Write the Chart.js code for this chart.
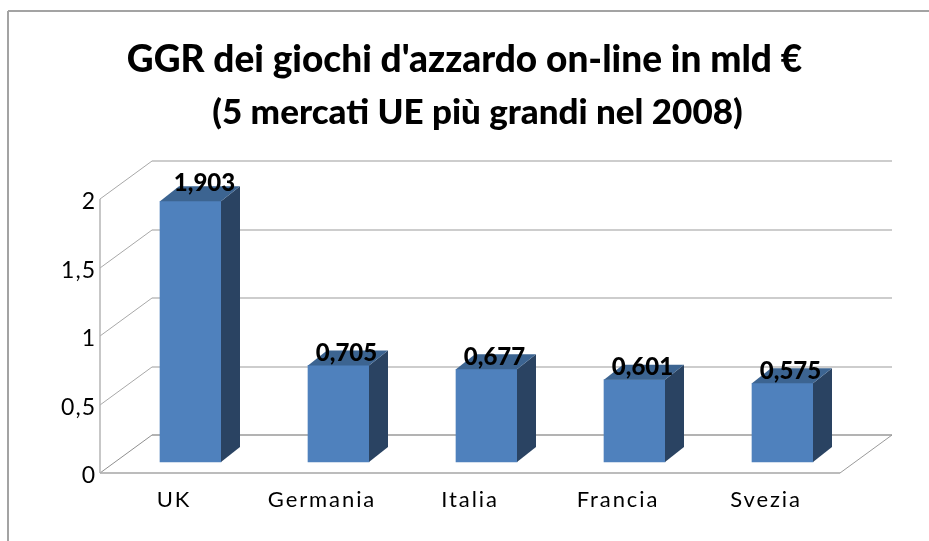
<!DOCTYPE html>
<html>
<head>
<meta charset="utf-8">
<title>GGR giochi on-line</title>
<script src="https://cdn.jsdelivr.net/npm/chart.js@4"></script>
<style>
    body { margin: 0; background: #fff; }
    canvas { display: block; }
</style>
</head>
<body>
<canvas id="ggrChart" width="929" height="541"></canvas>
<script>
const categories = ['UK', 'Germania', 'Italia', 'Francia', 'Svezia'];
const ggrValues = [1.903, 0.705, 0.677, 0.601, 0.575];
const tickValues = [0, 0.5, 1, 1.5, 2];
const tickLabels = ['0', '0,5', '1', '1,5', '2'];
const valueLabels = ['1,903', '0,705', '0,677', '0,601', '0,575'];
const chartTitle = "GGR dei giochi d'azzardo on-line in mld €";
const chartSubtitle = '(5 mercati UE più grandi nel 2008)';

const FONT = 'Lato, "Open Sans", sans-serif';
const wall = { dx: 52, dy: -38 };     // depth of the back wall
const barShift = { dx: 16.5, dy: -11 }; // bars stand inside the floor
const barDepth = { dx: 19, dy: -15 };

function line(ctx, x1, y1, x2, y2, color, width) {
    ctx.beginPath();
    ctx.moveTo(x1, y1);
    ctx.lineTo(x2, y2);
    ctx.strokeStyle = color;
    ctx.lineWidth = width;
    ctx.stroke();
}

function poly(ctx, points, color) {
    ctx.beginPath();
    points.forEach((p, i) => i ? ctx.lineTo(p[0], p[1]) : ctx.moveTo(p[0], p[1]));
    ctx.closePath();
    ctx.fillStyle = color;
    ctx.fill();
}

function spaced(scale, spacing) {
    if (scale._spaced) return;
    scale._spaced = true;
    const orig = scale.drawLabels;
    scale.drawLabels = function (area) {
        const ctx = this.ctx;
        ctx.save();
        ctx.letterSpacing = spacing;
        orig.call(this, area);
        ctx.restore();
    };
}

const box3d = {
    id: 'box3d',
    afterLayout(chart) {
        // second title line is not centred on the first one in the original
        const sub = chart.boxes.find(b => b.options && b.options.text === chartSubtitle);
        sub.left += 13;
        sub.right += 13;
    },
    beforeDraw(chart) {
        const { ctx, width, height } = chart;
        spaced(chart.scales.x, '1.9px');
        spaced(chart.scales.y, '1px');
        ctx.save();
        line(ctx, 8, 11, width, 11, '#a3a3a3', 2);
        line(ctx, 8, 11, 8, height, '#a3a3a3', 2);
        ctx.restore();
    },
    beforeDatasetsDraw(chart) {
        const { ctx, chartArea: a, scales: { y } } = chart;
        ctx.save();
        tickValues.forEach(v => {
            const py = Math.round(y.getPixelForValue(v));
            const dark = v === 0;
            line(ctx, a.left + wall.dx, py + wall.dy, a.right + wall.dx, py + wall.dy, dark ? '#9a9a9a' : '#bdbdbd', 1.5);
            line(ctx, a.left, py, a.left + wall.dx, py + wall.dy, dark ? '#8f8f8f' : '#a8a8a8', 1);
        });
        const floor = Math.round(y.getPixelForValue(0));
        line(ctx, a.left, floor, a.right, floor, '#a6a6a6', 1.5);
        line(ctx, a.right, floor, a.right + wall.dx, floor + wall.dy, '#9a9a9a', 1);
        line(ctx, a.left, Math.round(y.getPixelForValue(2)), a.left, floor, '#b5b5b5', 1.5);
        ctx.restore();
        ctx.save();
        ctx.translate(barShift.dx, barShift.dy);
    },
    afterDatasetsDraw(chart) {
        const { ctx } = chart;
        const bars = chart.getDatasetMeta(0).data;
        bars.forEach(bar => {
            const left = bar.x - bar.width / 2;
            const right = bar.x + bar.width / 2;
            const d = barDepth;
            poly(ctx, [[right, bar.y], [right + d.dx, bar.y + d.dy], [right + d.dx, bar.base + d.dy], [right, bar.base]], '#2a4362');
            poly(ctx, [[left, bar.y], [left + d.dx, bar.y + d.dy], [right + d.dx, bar.y + d.dy], [right, bar.y]], '#3c6491');
        });
        ctx.font = '900 24px ' + FONT;
        ctx.fillStyle = '#000';
        ctx.textAlign = 'center';
        ctx.textBaseline = 'middle';
        bars.forEach((bar, i) => {
            // the tall bar's label sits higher up on its top face
            const lift = i === 0 ? 18 : 12;
            const shift = i === 0 ? 14 : 8;
            ctx.fillText(valueLabels[i], bar.x + shift, bar.y - lift);
        });
        ctx.restore();
    }
};

new Chart(document.getElementById('ggrChart'), {
    type: 'bar',
    data: {
        labels: categories,
        datasets: [{
            data: ggrValues,
            backgroundColor: '#4f81bd',
            borderWidth: 0,
            barThickness: 61,
            clip: false
        }]
    },
    options: {
        responsive: false,
        animation: false,
        plugins: {
            legend: { display: false },
            tooltip: { enabled: false },
            title: {
                display: true,
                text: chartTitle,
                color: '#000',
                font: { family: FONT, size: 37, weight: '900' },
                padding: { top: 38, bottom: 9.6 }
            },
            subtitle: {
                display: true,
                text: chartSubtitle,
                color: '#000',
                font: { family: FONT, size: 35, weight: '900' },
                padding: { top: 0, bottom: 65 }
            }
        },
        scales: {
            x: {
                grid: { display: false },
                border: { display: false },
                afterFit(scale) { scale.height = 68; },
                ticks: { color: '#000', font: { family: FONT, size: 22 }, padding: 6, maxRotation: 0 }
            },
            y: {
                min: 0,
                max: 2,
                grid: { display: false },
                border: { display: false },
                afterFit(scale) { scale.width = 100; },
                afterBuildTicks(scale) { scale.ticks = tickValues.map(value => ({ value })); },
                ticks: {
                    color: '#000',
                    font: { family: FONT, size: 23 },
                    padding: -4,
                    labelOffset: 3,
                    callback: value => tickLabels[tickValues.indexOf(value)]
                }
            },
            // empty axis, only keeps the plot clear of the right edge
            spacer: {
                position: 'right',
                grid: { display: false },
                border: { display: false },
                ticks: { display: false },
                afterFit(scale) { scale.width = 89; }
            }
        }
    },
    plugins: [box3d]
});
</script>
</body>
</html>
